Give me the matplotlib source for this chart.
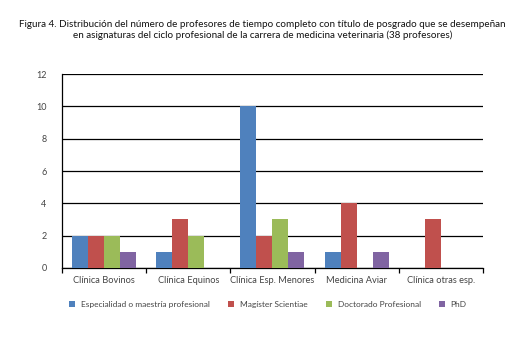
import matplotlib.pyplot as plt
import numpy as np

categories = ['Clínica Bovinos', 'Clínica Equinos', 'Clínica Esp. Menores',
              'Medicina Aviar', 'Clínica otras esp.']
series_names = ['Especialidad o maestría profesional', 'Magíster Scientiae',
                'Doctorado Profesional', 'PhD']
especialidad = [2, 1, 10, 1, 0]
magister = [2, 3, 2, 4, 3]
doctorado = [2, 2, 3, 0, 0]
phd = [1, 0, 1, 1, 0]
yticks = [0, 2, 4, 6, 8, 10, 12]

colors = ['#4F81BD', '#C0504D', '#9BBB59', '#8064A2']
plt.rcParams['font.family'] = ['Lato', 'DejaVu Sans']

fig = plt.figure(figsize=(5.25, 3.4), dpi=100)
ax = fig.add_axes([0.118, 0.212, 0.802, 0.570])

x = np.arange(len(categories))
w = 0.19
data = [especialidad, magister, doctorado, phd]
for i, (vals, name, c) in enumerate(zip(data, series_names, colors)):
    ax.bar(x + (i - 1.5) * w, vals, w, color=c, label=name, zorder=3)

ax.set_xlim(-0.5, len(categories) - 0.5)
ax.set_ylim(0, 12)
ax.set_yticks(yticks)
ax.yaxis.grid(True, color='black', linewidth=0.9, zorder=0)
ax.set_axisbelow(True)
for s in ['top', 'right']:
    ax.spines[s].set_visible(False)
ax.spines['left'].set_color('black')
ax.spines['bottom'].set_color('black')
ax.spines['left'].set_linewidth(0.9)
ax.spines['bottom'].set_linewidth(0.9)

ax.set_xticks(np.arange(-0.5, len(categories)), minor=False)
ax.set_xticklabels([])
ax.set_xticks(x, minor=True)
ax.set_xticklabels(categories, minor=True)
ax.tick_params(axis='x', which='major', length=3.5, color='black', width=0.9)
ax.tick_params(axis='x', which='minor', length=0, labelsize=6.7, labelcolor='#444444', pad=6)
ax.tick_params(axis='y', length=0, labelsize=6.5, labelcolor='#444444', pad=11)

fig.text(0.5, 0.912, 'Figura 4. Distribución del número de profesores de tiempo completo con título de posgrado que se desempeñan\n'
         'en asignaturas del ciclo profesional de la carrera de medicina veterinaria (38 profesores)',
         ha='center', va='center', fontsize=7.1, color='#111111', linespacing=1.15)

ax.legend(loc='upper left', bbox_to_anchor=(0.0, -0.13), ncol=4, frameon=False,
          fontsize=6, handlelength=0.7, handleheight=0.7, columnspacing=2.2,
          handletextpad=0.7, labelcolor='#444444')

plt.savefig('out.png', dpi=100)
